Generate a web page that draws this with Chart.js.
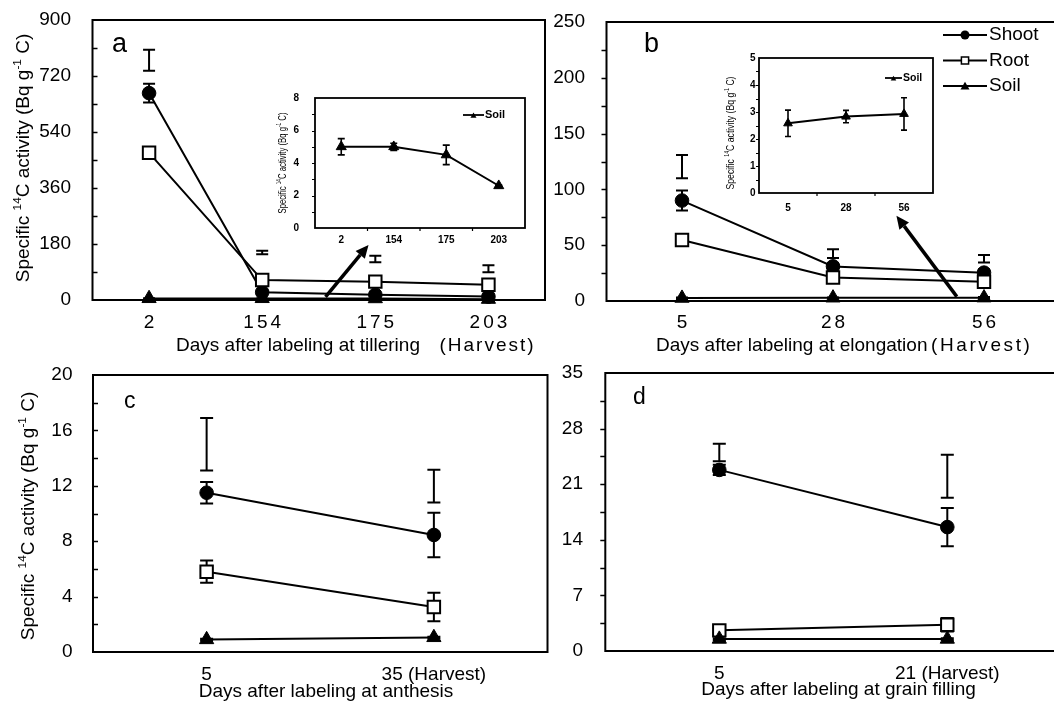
<!DOCTYPE html>
<html><head><meta charset="utf-8">
<script src="https://cdn.jsdelivr.net/npm/chart.js@4.4.1/dist/chart.umd.min.js"></script>
<style>
html,body{margin:0;padding:0;background:#fff;overflow:hidden;}
body{width:1054px;height:704px;position:relative;}
canvas{position:absolute;}
</style></head><body>
<canvas id="pa"></canvas><canvas id="pb"></canvas><canvas id="pc"></canvas><canvas id="pd"></canvas><canvas id="ia"></canvas><canvas id="ib"></canvas>
<script>
// ---------------- data ----------------
const seriesNames = ['Shoot', 'Root', 'Soil'];

// (a) labeling at tillering
const daysA = ['2', '154', '175', '203'];
const shootA = [665, 25, 17, 11];
const shootErrA = [30, 3, 3, 2];
const rootA = [473, 64, 59, 49];
const rootErrA = [4, 4, 4, 4];
const soilA = [5.0, 5.0, 4.5, 2.6];
const soilErrA = [0.5, 0.22, 0.6, 0.05];
const upperLowA = [737, 147, 121, 89];
const upperHighA = [804, 158, 142, 112];
const yMaxA = 900, yStepA = 180;
const insetMaxA = 8, insetStepA = 2;

// (b) labeling at elongation
const daysB = ['5', '28', '56'];
const shootB = [90, 31, 25.4];
const shootErrB = [9, 3, 3];
const rootB = [54.7, 21, 17.3];
const rootErrB = [5, 3, 5];
const soilB = [2.58, 2.83, 2.93];
const soilErrB = [0.49, 0.23, 0.6];
const upperLowB = [110, 38.5, 34.4];
const upperHighB = [130.8, 46.3, 41.3];
const yMaxB = 250, yStepB = 50;
const insetMaxB = 5, insetStepB = 1;

// (c) labeling at anthesis
const daysC = ['5', '35 (Harvest)'];
const shootC = [11.5, 8.45];
const shootErrC = [0.78, 1.6];
const rootC = [5.8, 3.25];
const rootErrC = [0.8, 1.03];
const soilC = [0.9, 1.05];
const soilErrC = [0.05, 0.05];
const upperLowC = [13.1, 10.8];
const upperHighC = [16.9, 13.15];
const yMaxC = 20, yStepC = 4;

// (d) labeling at grain filling
const daysD = ['5', '21 (Harvest)'];
const shootD = [22.8, 15.6];
const shootErrD = [0.65, 2.4];
const rootD = [2.6, 3.3];
const rootErrD = [0.3, 0.85];
const soilD = [1.5, 1.5];
const soilErrD = [0.1, 0.1];
const upperLowD = [23.9, 19.3];
const upperHighD = [26.1, 24.7];
const yMaxD = 35, yStepD = 7;

// ---------------- helpers ----------------
const FONT = '"Liberation Sans", Arial, Helvetica, sans-serif';
const yTitleParts = [{t:'Specific '},{t:'14',sup:1},{t:'C activity (Bq g'},{t:'-1',sup:1},{t:' C)'}];

function richDraw(ctx, parts, cx, cy, size, weight, rotate, fitLen) {
  ctx.save();
  ctx.translate(cx, cy);
  if (rotate) ctx.rotate(-Math.PI / 2);
  const fontFor = p => `${weight} ${p.sup ? size * 0.62 : size}px ${FONT}`;
  let w = 0;
  const widths = parts.map(p => { ctx.font = fontFor(p); const m = ctx.measureText(p.t).width; w += m; return m; });
  if (fitLen) ctx.scale(fitLen / w, 1);
  let x = -w / 2;
  ctx.fillStyle = '#000'; ctx.textBaseline = 'alphabetic'; ctx.textAlign = 'left';
  parts.forEach((p, k) => {
    ctx.font = fontFor(p);
    ctx.fillText(p.t, x, size * 0.36 - (p.sup ? size * 0.42 : 0));
    x += widths[k];
  });
  ctx.restore();
}

function drawMarker(ctx, style, x, y, r, bw) {
  ctx.save();
  ctx.strokeStyle = '#000'; ctx.lineWidth = bw || 1.5;
  ctx.beginPath();
  if (style === 'circle') {
    ctx.arc(x, y, r, 0, Math.PI * 2); ctx.fillStyle = '#000'; ctx.fill();
  } else if (style === 'rect') {
    ctx.rect(x - r, y - r, 2 * r, 2 * r); ctx.fillStyle = '#fff'; ctx.fill(); ctx.stroke();
  } else {
    ctx.moveTo(x, y - r); ctx.lineTo(x + r * 0.866, y + r / 2); ctx.lineTo(x - r * 0.866, y + r / 2);
    ctx.closePath(); ctx.fillStyle = '#000'; ctx.fill();
  }
  ctx.restore();
}

function drawText(ctx, t, x, y, font, align, spacing) {
  ctx.save();
  ctx.font = font; ctx.fillStyle = '#000'; ctx.textBaseline = 'middle';
  ctx.textAlign = align || 'left';
  if (spacing) ctx.letterSpacing = spacing + 'px';
  let dx = 0;
  if (spacing && align === 'center') dx = spacing / 2;
  ctx.fillText(t, x + dx, y);
  ctx.restore();
}

function buildChart(p) {
  const cv = document.getElementById(p.id);
  cv.width = p.w; cv.height = p.h;
  cv.style.left = p.left + 'px'; cv.style.top = p.top + 'px';
  cv.style.width = p.w + 'px'; cv.style.height = p.h + 'px';
  const [L, T, R, B] = p.area;
  let yW = L - p.left, padT = T - p.top, padR = p.left + p.w - R, xH = p.top + p.h - B;

  const datasets = p.series.map(s => ({
    label: s.name, data: s.values, borderColor: '#000', borderWidth: p.lineW,
    tension: 0, fill: false, clip: false,
    pointStyle: s.style, pointRadius: s.r, pointHoverRadius: s.r,
    pointBackgroundColor: s.style === 'rect' ? '#fff' : '#000',
    pointBorderColor: '#000', pointBorderWidth: s.style === 'rect' ? 2 : 1,
    order: s.order
  }));

  const deco = {
    id: 'deco_' + p.id,
    beforeDatasetsDraw(chart) {
      const ctx = chart.ctx, xs = chart.scales.x, ys = chart.scales.y;
      ctx.save();
      ctx.strokeStyle = '#000'; ctx.lineWidth = p.errW;
      const bar = (i, lo, hi) => {
        const x = xs.getPixelForValue(i), y1 = ys.getPixelForValue(lo), y2 = ys.getPixelForValue(hi), c = p.cap;
        ctx.beginPath();
        ctx.moveTo(x, y1); ctx.lineTo(x, y2);
        ctx.moveTo(x - c, y1); ctx.lineTo(x + c, y1);
        ctx.moveTo(x - c, y2); ctx.lineTo(x + c, y2);
        ctx.stroke();
      };
      p.series.forEach(s => s.values.forEach((v, i) => { if (s.err) bar(i, v - s.err[i], v + s.err[i]); }));
      if (p.upper) p.upper[0].forEach((lo, i) => bar(i, lo, p.upper[1][i]));
      ctx.restore();
    },
    afterDraw(chart) {
      const ctx = chart.ctx, a = chart.chartArea, xs = chart.scales.x, ys = chart.scales.y;
      ctx.save();
      ctx.strokeStyle = '#000'; ctx.lineWidth = p.frameW;
      ctx.strokeRect(a.left, a.top, a.right - a.left, a.bottom - a.top);
      ctx.lineWidth = p.tickW;
      ctx.beginPath();
      for (let v = p.yMinor; v < p.yMax - 1e-9; v += p.yMinor) {
        const y = Math.round(ys.getPixelForValue(v)) + 0.5;
        ctx.moveTo(a.left, y); ctx.lineTo(a.left + p.tickDir * p.tickLen, y);
      }
      if (p.xBoundaryTicks) {
        for (let k = 1; k < p.labels.length; k++) {
          const x = (xs.getPixelForValue(k - 1) + xs.getPixelForValue(k)) / 2;
          ctx.moveTo(x, a.bottom); ctx.lineTo(x, a.bottom + p.tickLen);
        }
      }
      ctx.stroke();
      ctx.translate(-p.left, -p.top);
      if (p.customXLabels) {
        p.labels.forEach((t, i) => drawText(ctx, t, xs.getPixelForValue(i) + p.left, p.customXLabels.y,
          `${p.tickFontSize}px ${FONT}`, 'center', p.customXLabels.spacing));
      }
      if (p.xTitle) p.xTitle.forEach(t => drawText(ctx, t.text, t.x, t.y, `${t.size}px ${FONT}`, t.align, t.spacing));
      if (p.yTitle) richDraw(ctx, yTitleParts, p.yTitle.x, p.yTitle.y, p.yTitle.size, p.yTitle.weight || 'normal', true, p.yTitle.fit);
      if (p.letter) drawText(ctx, p.letter.t, p.letter.x, p.letter.y, `${p.letter.size}px ${FONT}`, 'left');
      if (p.legend) {
        const lg = p.legend;
        lg.items.forEach((it, k) => {
          const y = lg.y0 + k * lg.dy;
          ctx.save(); ctx.strokeStyle = '#000'; ctx.lineWidth = lg.lineW;
          ctx.beginPath(); ctx.moveTo(lg.x1, y); ctx.lineTo(lg.x2, y); ctx.stroke(); ctx.restore();
          drawMarker(ctx, it.style, (lg.x1 + lg.x2) / 2, y + (it.style === 'triangle' ? 1 : 0), it.r, 1.5);
          drawText(ctx, it.name, lg.tx, y, lg.font, 'left');
        });
      }
      ctx.restore();
      if (p.arrow) {
        const [i1, v1] = p.arrow.from, [i2, v2] = p.arrow.to;
        const x1 = xs.getPixelForValue(i1), y1 = ys.getPixelForValue(v1);
        const x2 = xs.getPixelForValue(i2), y2 = ys.getPixelForValue(v2);
        const ang = Math.atan2(y2 - y1, x2 - x1), hl = 13, hw = 6;
        const bx = x2 - hl * Math.cos(ang), by = y2 - hl * Math.sin(ang);
        ctx.save();
        ctx.strokeStyle = '#000'; ctx.fillStyle = '#000'; ctx.lineWidth = 3.5;
        ctx.beginPath(); ctx.moveTo(x1, y1); ctx.lineTo(bx, by); ctx.stroke();
        ctx.beginPath(); ctx.moveTo(x2, y2);
        ctx.lineTo(bx + hw * Math.sin(ang), by - hw * Math.cos(ang));
        ctx.lineTo(bx - hw * Math.sin(ang), by + hw * Math.cos(ang));
        ctx.closePath(); ctx.fill();
        ctx.restore();
      }
    }
  };

  const ch = new Chart(cv, {
    type: 'line',
    data: { labels: p.labels, datasets },
    options: {
      responsive: false, animation: false, events: [],
      layout: { autoPadding: false, padding: { left: 0, top: padT, right: padR, bottom: 0 } },
      plugins: { legend: { display: false }, tooltip: { enabled: false } },
      scales: {
        x: {
          type: 'category', offset: true,
          grid: { display: false, drawTicks: true, tickLength: p.xPad || 0 }, border: { display: false },
          ticks: { display: !p.customXLabels, color: '#000', padding: 0, maxRotation: 0, autoSkip: false,
                   font: { family: FONT, size: p.tickFontSize, weight: p.tickWeight || 'normal' } },
          afterFit: s => { s.height = xH; }
        },
        y: {
          min: 0, max: p.yMax,
          grid: { display: false, drawTicks: true, tickLength: p.yPad }, border: { display: false },
          ticks: { stepSize: p.yStep, color: '#000', padding: 0,
                   font: { family: FONT, size: p.tickFontSize, weight: p.tickWeight || 'normal' } },
          afterFit: s => { s.width = yW; }
        }
      }
    },
    plugins: [deco]
  });
  // keep the plot area exactly where the reference has it
  for (let k = 0; k < 4; k++) {
    const a = ch.chartArea;
    const dl = (L - p.left) - a.left, dt = (T - p.top) - a.top;
    const dr = (R - p.left) - a.right, db = (B - p.top) - a.bottom;
    if (Math.abs(dl) + Math.abs(dt) + Math.abs(dr) + Math.abs(db) < 0.05) break;
    yW += dl; padT += dt; padR -= dr; xH -= db;
    ch.options.layout.padding = { left: 0, top: padT, right: padR, bottom: 0 };
    ch.update('none');
  }
}

const mainSeries = (sh, she, ro, roe, so, soe) => [
  { name: seriesNames[2], values: so, err: soe, style: 'triangle', r: 8.2, order: 0 },
  { name: seriesNames[1], values: ro, err: roe, style: 'rect', r: 8.8, order: 1 },
  { name: seriesNames[0], values: sh, err: she, style: 'circle', r: 6.8, order: 2 }
];

// (a)
buildChart({
  id: 'pa', left: 0, top: 0, w: 560, h: 360, area: [92.5, 20, 545, 300],
  labels: daysA, yMax: yMaxA, yStep: yStepA, yMinor: yStepA / 2, yPad: 21.5,
  tickFontSize: 19, tickDir: 1, tickLen: 5, tickW: 1.5, frameW: 2, lineW: 2, errW: 2, cap: 6,
  series: mainSeries(shootA, shootErrA, rootA, rootErrA, soilA, soilErrA),
  upper: [upperLowA, upperHighA],
  customXLabels: { y: 323, spacing: 3 },
  xTitle: [{ text: 'Days after labeling at tillering', x: 176, y: 346, size: 19, align: 'left' },
           { text: '(Harvest)', x: 439.5, y: 346, size: 19, align: 'left', spacing: 2 }],
  yTitle: { x: 22, y: 158, size: 19 },
  letter: { t: 'a', x: 112, y: 45, size: 27 },
  arrow: { from: [1.56, 10], to: [1.94, 177] }
});

// (b)
buildChart({
  id: 'pb', left: 540, top: 0, w: 530, h: 360, area: [606.5, 22, 1059.5, 301],
  labels: daysB, yMax: yMaxB, yStep: yStepB, yMinor: yStepB / 2, yPad: 21.5,
  tickFontSize: 19, tickDir: -1, tickLen: 5, tickW: 1.5, frameW: 2, lineW: 2, errW: 2, cap: 6,
  series: mainSeries(shootB, shootErrB, rootB, rootErrB, soilB, soilErrB),
  upper: [upperLowB, upperHighB],
  customXLabels: { y: 323, spacing: 3 },
  xTitle: [{ text: 'Days after labeling at elongation', x: 656, y: 346, size: 19, align: 'left' },
           { text: '(Harvest)', x: 931, y: 346, size: 19, align: 'left', spacing: 2.6 }],
  letter: { t: 'b', x: 644, y: 45, size: 27 },
  legend: { x1: 943, x2: 987, tx: 989, y0: 35, dy: 25.5, lineW: 2, font: `19px ${FONT}`,
            items: [{ name: seriesNames[0], style: 'circle', r: 4.5 }, { name: seriesNames[1], style: 'rect', r: 3.6 },
                    { name: seriesNames[2], style: 'triangle', r: 5.2 }] },
  arrow: { from: [1.82, 3.9], to: [1.42, 76.4] }
});

// (c)
buildChart({
  id: 'pc', left: 0, top: 360, w: 560, h: 344, area: [93, 375, 547.5, 652],
  labels: daysC, yMax: yMaxC, yStep: yStepC, yMinor: yStepC / 2, yPad: 20.5, xPad: 11.6,
  tickFontSize: 19, tickDir: 1, tickLen: 5, tickW: 1.5, frameW: 2, lineW: 2, errW: 2, cap: 6.5,
  series: mainSeries(shootC, shootErrC, rootC, rootErrC, soilC, soilErrC),
  upper: [upperLowC, upperHighC],
  xTitle: [{ text: 'Days after labeling at anthesis', x: 326, y: 692, size: 19, align: 'center' }],
  yTitle: { x: 27, y: 516, size: 19 },
  letter: { t: 'c', x: 124, y: 402, size: 23 }
});

// (d)
buildChart({
  id: 'pd', left: 540, top: 360, w: 530, h: 344, area: [605.3, 373, 1061.3, 651],
  labels: daysD, yMax: yMaxD, yStep: yStepD, yMinor: yStepD / 2, yPad: 22.3, xPad: 10.9,
  tickFontSize: 19, tickDir: -1, tickLen: 5, tickW: 1.5, frameW: 2, lineW: 2, errW: 2, cap: 6.5,
  series: mainSeries(shootD, shootErrD, rootD, rootErrD, soilD, soilErrD),
  upper: [upperLowD, upperHighD],
  xTitle: [{ text: 'Days after labeling at grain filling', x: 838.5, y: 690, size: 19, align: 'center' }],
  letter: { t: 'd', x: 633, y: 398, size: 23 }
});

// inset (a): soil
buildChart({
  id: 'ia', left: 268, top: 85, w: 267, h: 165, area: [315, 98, 525, 228],
  labels: daysA, yMax: insetMaxA, yStep: insetStepA, yMinor: insetStepA / 2, yPad: 16, xPad: 6,
  tickFontSize: 10, tickWeight: 'bold', tickDir: -1, tickLen: 3, tickW: 1.2, frameW: 1.8, lineW: 2, errW: 1.6, cap: 3.5,
  xBoundaryTicks: true,
  series: [{ name: seriesNames[2], values: soilA, err: soilErrA, style: 'triangle', r: 5.8, order: 0 }],
  yTitle: { x: 282, y: 163, size: 10.5, fit: 101 },
  legend: { x1: 463, x2: 484, tx: 485, y0: 115, dy: 0, lineW: 1.8, font: `bold 11px ${FONT}`,
            items: [{ name: seriesNames[2], style: 'triangle', r: 3.5 }] }
});

// inset (b): soil
buildChart({
  id: 'ib', left: 715, top: 45, w: 230, h: 170, area: [759, 58, 933, 193],
  labels: daysB, yMax: insetMaxB, yStep: insetStepB, yMinor: insetStepB / 2, yPad: 3.5, xPad: 9.3,
  tickFontSize: 10, tickWeight: 'bold', tickDir: -1, tickLen: 3, tickW: 1.2, frameW: 1.8, lineW: 2, errW: 1.6, cap: 3,
  xBoundaryTicks: true,
  series: [{ name: seriesNames[2], values: soilB, err: soilErrB, style: 'triangle', r: 5, order: 0 }],
  yTitle: { x: 730, y: 133, size: 10.5, fit: 113 },
  legend: { x1: 885, x2: 902, tx: 903, y0: 78, dy: 0, lineW: 1.8, font: `bold 10.5px ${FONT}`,
            items: [{ name: seriesNames[2], style: 'triangle', r: 3.2 }] }
});
</script>
</body></html>
